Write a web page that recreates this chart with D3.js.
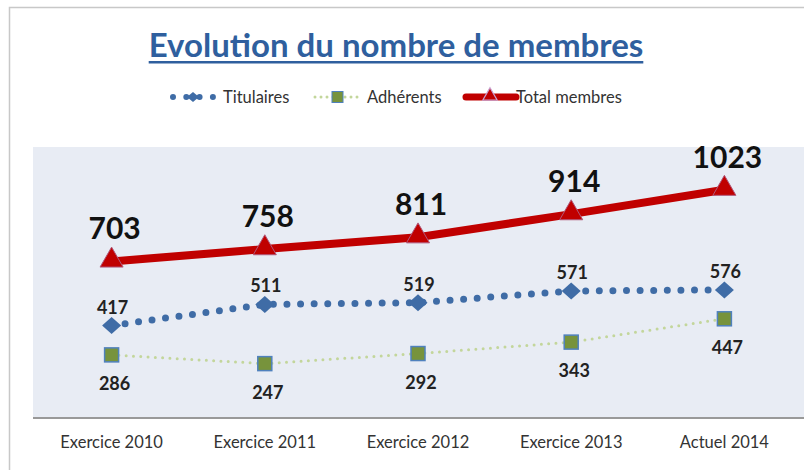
<!DOCTYPE html>
<html>
<head>
<meta charset="utf-8">
<script src="https://cdn.jsdelivr.net/npm/d3@7"></script>
<style>
  body { margin: 0; background: #fff; }
  svg { display: block; font-family: Lato, "Open Sans", sans-serif; }
</style>
</head>
<body>
<svg id="chart" width="804" height="470"></svg>
<script>
const categories = ['Exercice 2010', 'Exercice 2011', 'Exercice 2012', 'Exercice 2013', 'Actuel 2014'];
const titulaires = [417, 511, 519, 571, 576];
const adherents = [286, 247, 292, 343, 447];
const total = [703, 758, 811, 914, 1023];
const seriesNames = ['Titulaires', 'Adhérents', 'Total membres'];
const title = 'Evolution du nombre de membres';

const svg = d3.select('#chart');
const W = 804, H = 470;
const PLOT = { left: 33, top: 147, right: 804, bottom: 418 };

const BLUE = '#3f6ca6';
const GREEN = '#77933c';
const GREEN_LINE = '#c3d69b';
const RED = '#c00000';

// frame
svg.append('path')
    .attr('d', `M9.5,${H}V7.5H${W}`)
    .style('fill', 'none')
    .style('stroke', '#c8c8c8')
    .style('stroke-width', 1.5);

// title
const titleText = svg.append('text')
    .attr('x', 396)
    .attr('y', 57)
    .attr('text-anchor', 'middle')
    .style('font-size', '33px')
    .style('font-weight', '700')
    .style('fill', '#2f5f9e')
    .text(title);
const tb = titleText.node().getBBox();
svg.append('rect')
    .attr('x', tb.x).attr('y', 61)
    .attr('width', tb.width).attr('height', 2.5)
    .style('fill', '#2f5f9e');

// plot background
svg.append('rect')
    .attr('x', PLOT.left).attr('y', PLOT.top)
    .attr('width', PLOT.right - PLOT.left).attr('height', PLOT.bottom - PLOT.top)
    .style('fill', '#e8ecf4');

const x = d3.scaleBand().domain(categories).range([35, 801]);
const cx = (c) => x(c) + x.bandwidth() / 2;
const y = d3.scaleLinear().domain([0, 1200]).range([419, 150]);

// baseline + category labels
const xAxis = d3.axisBottom(x).tickSize(0).tickPadding(18);
const xg = svg.append('g').attr('transform', `translate(0,${PLOT.bottom})`).call(xAxis);
xg.select('.domain').attr('d', `M${PLOT.left},0H${PLOT.right}`).style('stroke', '#999').style('stroke-width', 2);
xg.selectAll('text')
    .style('font-family', 'Lato, sans-serif')
    .style('font-size', '16.5px')
    .style('fill', '#333');

const rows = (vals) => categories.map((c, i) => ({ c, v: vals[i] }));
const line = d3.line().x(d => cx(d.c)).y(d => y(d.v));

const diamond = 'M0,-8.5L9.5,0L0,8.5L-9.5,0Z';
const triangle = d3.symbol().type(d3.symbolTriangle).size(230)();

// Adhérents
svg.append('path')
    .datum(rows(adherents))
    .attr('d', line)
    .style('fill', 'none')
    .style('stroke', GREEN_LINE)
    .style('stroke-width', 3)
    .style('stroke-linecap', 'round')
    .style('stroke-dasharray', '0,7.3');
svg.append('g').selectAll('rect')
    .data(rows(adherents))
    .join('rect')
    .attr('x', d => cx(d.c) - 7).attr('y', d => y(d.v) - 7)
    .attr('width', 14).attr('height', 14)
    .style('fill', GREEN)
    .style('stroke', '#4f81bd')
    .style('stroke-width', 1.5);
svg.append('g').selectAll('text')
    .data(rows(adherents))
    .join('text')
    .attr('x', d => cx(d.c) + 3)
    .attr('y', d => y(d.v) + 35)
    .attr('text-anchor', 'middle')
    .style('font-size', '18px')
    .style('font-weight', '700')
    .style('fill', '#222')
    .text(d => d.v);

// Titulaires
svg.append('path')
    .datum(rows(titulaires))
    .attr('d', line)
    .style('fill', 'none')
    .style('stroke', BLUE)
    .style('stroke-width', 7)
    .style('stroke-linecap', 'round')
    .style('stroke-dasharray', '0,13.6');
svg.append('g').selectAll('path')
    .data(rows(titulaires))
    .join('path')
    .attr('d', diamond)
    .attr('transform', d => `translate(${cx(d.c)},${y(d.v)})`)
    .style('fill', BLUE);
svg.append('g').selectAll('text')
    .data(rows(titulaires))
    .join('text')
    .attr('x', d => cx(d.c) + 1)
    .attr('y', d => y(d.v) - 12)
    .attr('text-anchor', 'middle')
    .style('font-size', '18px')
    .style('font-weight', '700')
    .style('fill', '#222')
    .text(d => d.v);

// Total membres
svg.append('path')
    .datum(rows(total))
    .attr('d', line)
    .style('fill', 'none')
    .style('stroke', RED)
    .style('stroke-width', 8);
svg.append('g').selectAll('path')
    .data(rows(total))
    .join('path')
    .attr('d', triangle)
    .attr('transform', d => `translate(${cx(d.c)},${y(d.v) - 1})`)
    .style('fill', RED)
    .style('stroke', '#b0587a')
    .style('stroke-width', 1);
svg.append('g').selectAll('text')
    .data(rows(total))
    .join('text')
    .attr('x', d => cx(d.c) + 3)
    .attr('y', d => y(d.v) - 22)
    .attr('text-anchor', 'middle')
    .style('font-size', '30px')
    .style('font-weight', '700')
    .style('fill', '#111')
    .text(d => d.v);

// legend
const lg = svg.append('g').attr('transform', 'translate(0,97)');
const legendText = (tx, s) => lg.append('text')
    .attr('x', tx).attr('y', 6)
    .style('font-size', '16.5px')
    .style('fill', '#333')
    .text(s);

lg.append('path')
    .attr('d', 'M173,0H213')
    .style('stroke', BLUE).style('stroke-width', 6)
    .style('stroke-linecap', 'round').style('stroke-dasharray', '0,13.3');
lg.append('path').attr('d', 'M0,-5L6,0L0,5L-6,0Z')
    .attr('transform', 'translate(193,0)').style('fill', BLUE);
legendText(223, seriesNames[0]);

lg.append('path')
    .attr('d', 'M315,0H358')
    .style('stroke', GREEN_LINE).style('stroke-width', 3)
    .style('stroke-linecap', 'round').style('stroke-dasharray', '0,6');
lg.append('rect').attr('x', 332).attr('y', -5.5).attr('width', 11).attr('height', 11)
    .style('fill', GREEN).style('stroke', '#4f81bd').style('stroke-width', 1);
legendText(367, seriesNames[1]);

lg.append('path')
    .attr('d', 'M466,0H516')
    .style('stroke', RED).style('stroke-width', 7)
    .style('stroke-linecap', 'round');
lg.append('path').attr('d', d3.symbol().type(d3.symbolTriangle).size(90)())
    .attr('transform', 'translate(490,-1)')
    .style('fill', RED).style('stroke', '#c9a0d0').style('stroke-width', 1.2);
legendText(516, seriesNames[2]);
</script>
</body>
</html>
